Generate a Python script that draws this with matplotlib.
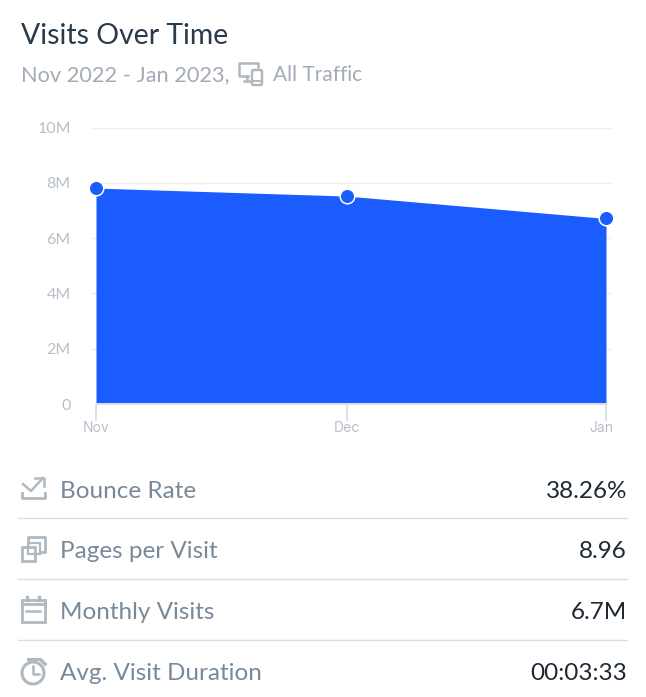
import matplotlib
matplotlib.use("Agg")
import matplotlib.pyplot as plt
import matplotlib.dates as mdates
from matplotlib.patches import Rectangle, Circle, FancyBboxPatch
from matplotlib.transforms import ScaledTranslation
from datetime import datetime

W, H = 646, 697
FONT = "Lato"

# chart data
months = [datetime(2022, 11, 1), datetime(2022, 12, 1), datetime(2023, 1, 1)]
month_labels = ["Nov", "Dec", "Jan"]
visits = [7.81, 7.52, 6.71]
y_ticks = [0, 2, 4, 6, 8, 10]
y_labels = ["0", "2M", "4M", "6M", "8M", "10M"]

# table below the chart
metric_names = ["Bounce Rate", "Pages per Visit", "Monthly Visits", "Avg. Visit Duration"]
metric_values = ["38.26%", "8.96", "6.7M", "00:03:33"]

BLUE = "#1b5cff"
ICON = "#b0b8c0"

plt.rcParams["font.family"] = FONT
fig = plt.figure(figsize=(W / 100, H / 100), dpi=100)

# overlay in pixel coords for texts and icons
bg = fig.add_axes([0, 0, 1, 1])
bg.set_xlim(0, W)
bg.set_ylim(H, 0)
bg.axis("off")

# chart axes, x runs from 91 to 612 px, Nov 1 sits at 96 and Jan 1 at 606
ax = fig.add_axes([91 / W, 1 - 404 / H, (612 - 91) / W, (404 - 127.5) / H])
px_per_day = (606 - 96) / 61
x0 = mdates.date2num(months[0])
x1 = mdates.date2num(months[-1])
ax.set_xlim(x0 - 5 / px_per_day, x1 + 6 / px_per_day)
ax.set_ylim(0, 10)
ax.patch.set_alpha(0)
for s in ax.spines.values():
    s.set_visible(False)
ax.spines["bottom"].set_visible(True)
ax.spines["bottom"].set_bounds(x0, x1)
ax.spines["bottom"].set_color("#dde2ea")
ax.spines["bottom"].set_linewidth(1.4)

for t in y_ticks[1:]:
    ax.axhline(t, color="#eeeeee", lw=1, zorder=1)

ax.fill_between(months, visits, 0, color=BLUE, lw=0, zorder=2)
ax.plot(months, visits, ls="none", marker="o", ms=10.5, mfc=BLUE, mec="white", mew=1.1,
        zorder=4, clip_on=False)

ax.set_xticks(months)
ax.set_xticklabels(month_labels, fontsize=10, color="#b8bfc8", family="Inter")
ax.tick_params(axis="x", length=12, width=1.2, color="#d5dbe4", pad=0.3)
# the last label is pushed inside the chart edge
jan = ax.get_xticklabels()[-1]
jan.set_transform(jan.get_transform() + ScaledTranslation(-5 / 100, 0, fig.dpi_scale_trans))

ax.set_yticks(y_ticks)
ax.set_yticklabels(y_labels, fontsize=11.5, color="#b8bfc8")
ax.tick_params(axis="y", length=0, pad=14.5)

# header
bg.text(21, 36, "Visits Over Time", fontsize=20.4, color="#2a3a4a", va="center", ha="left")
bg.text(21, 75, "Nov 2022 - Jan 2023,", fontsize=15.7, color="#a3abb6", va="center", ha="left")
bg.text(273, 75, "All Traffic", fontsize=15, color="#a3abb6", va="center", ha="left")

# device icon
bg.plot([258, 258, 239, 239, 248], [67, 63, 63, 76, 76], color=ICON, lw=1.8)
bg.plot([244, 250], [81, 81], color=ICON, lw=1.8)
bg.plot([247, 247], [76, 81], color=ICON, lw=1.8)
bg.add_patch(FancyBboxPatch((252, 70), 10, 15, boxstyle="round,pad=0,rounding_size=1.5",
                            fc="none", ec=ICON, lw=1.8))
bg.plot([252, 262], [81, 81], color=ICON, lw=1.4)

# table rows
row_y = [491, 551.5, 612.5, 673.5]
for name, value, y in zip(metric_names, metric_values, row_y):
    bg.text(60, y, name, fontsize=17.5, color="#78899a", va="center", ha="left")
    bg.text(627, y, value, fontsize=17.5, color="#1f2933", va="center", ha="right")
for y in [518, 579, 640]:
    bg.plot([18, 627], [y, y], color="#dddddd", lw=1)

# bounce icon
bg.plot([21.5, 21.5, 45, 45], [493, 498, 498, 493], color=ICON, lw=2)
bg.plot([23, 31, 43], [484, 491, 478], color=ICON, lw=1.8)
bg.plot([35, 43.5, 43.5], [477.5, 477.5, 486], color=ICON, lw=1.8)

# pages icon
bg.plot([28, 28, 45, 45, 40], [543, 537, 537, 552, 552], color=ICON, lw=2)
bg.add_patch(Rectangle((21.5, 547), 13, 14, fc="none", ec=ICON, lw=2))
bg.add_patch(Rectangle((28, 543), 12, 11, fc="none", ec=ICON, lw=1.6))

# calendar icon
bg.add_patch(Rectangle((21.5, 600), 23, 22, fc="none", ec=ICON, lw=2))
bg.plot([21.5, 44.5], [604, 604], color=ICON, lw=2)
bg.plot([27, 27], [597, 600], color=ICON, lw=2.5)
bg.plot([39, 39], [597, 600], color=ICON, lw=2.5)
bg.plot([26, 40], [611, 611], color=ICON, lw=1.8)

# stopwatch icon
bg.add_patch(Circle((33, 673), 11, fc="none", ec=ICON, lw=2.2))
bg.plot([33, 33, 39], [666, 674, 674], color=ICON, lw=1.8)
bg.plot([28, 38], [658.5, 658.5], color=ICON, lw=2.2)
bg.plot([41, 45], [660, 664], color=ICON, lw=2.5)

fig.savefig("out.png", dpi=100, facecolor="white")
